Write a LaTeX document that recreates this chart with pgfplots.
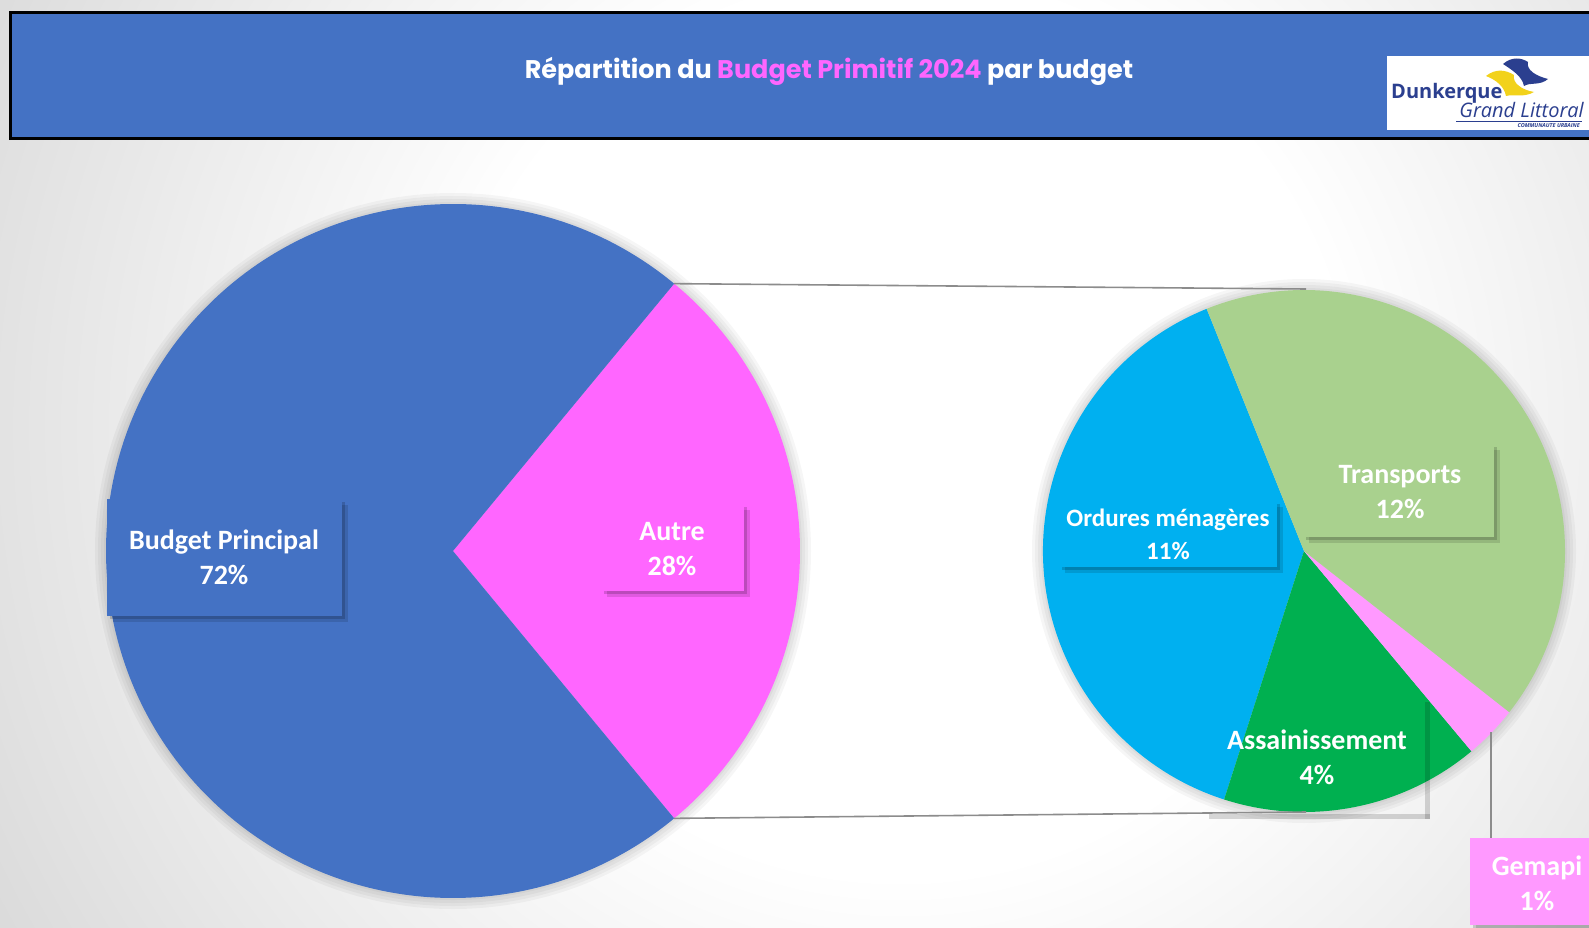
\documentclass[border=0pt]{standalone}
\usepackage{pgfplots}
\usepackage{pgfplotstable}
\pgfplotsset{compat=1.18}
\usepackage{fontspec}
\setmainfont{Carlito}
\newfontfamily\titlefont{Poppins}
\newfontfamily\logofont{Open Sans}

\definecolor{bannerblue}{HTML}{4472C4}
\definecolor{bpblue}{HTML}{4472C4}
\definecolor{autrepink}{HTML}{FF66FF}
\definecolor{titlepink}{HTML}{FF66FF}
\definecolor{ordblue}{HTML}{00B0F0}
\definecolor{assgreen}{HTML}{00B050}
\definecolor{gempink}{HTML}{FF99FF}
\definecolor{trgreen}{HTML}{A9D18E}
\definecolor{logonavy}{HTML}{2B3F8F}
\definecolor{logoyellow}{HTML}{F2D21B}

\pgfdeclareradialshading{bgshade}{\pgfpoint{0bp}{0bp}}{%
  color(0bp)=(white); color(8bp)=(white); color(24bp)=(black!22); color(50bp)=(black!32)}

% main pie: Autre first, centred on 0 degrees
\pgfplotstableread{
slice value color
Autre 28 autrepink
Principal 72 bpblue
}\mainpie

% sub pie (breakdown of Autre), counter-clockwise from 111.9 degrees
\pgfplotstableread{
slice value color
Ordures 10.91 ordblue
Assainissement 4.49 assgreen
Gemapi 0.93 gempink
Transports 11.67 trgreen
}\subpie

\newcommand{\pieslice}[6]{% cx cy r start end colour
  \edef\tmp{\noexpand\fill[#6] (axis cs:#1,#2) -- ++(#4:#3pt)
    arc[start angle=#4, end angle=#5, radius=#3pt] -- cycle;}\tmp}

\newcommand{\piering}[3]{% soft glow round a pie
  \pgfplotsinvokeforeach{2,5,8,11}{%
    \fill[black, opacity=0.035] (axis cs:#1,#2) circle[radius=#3pt+##1pt];
  }}

\newcommand{\labelbox}[5]{% x1 y1 x2 y2 colour
  \fill[black, opacity=0.12] ([xshift=6pt,yshift=-6pt]axis cs:#1,#2) rectangle ([xshift=6pt,yshift=-6pt]axis cs:#3,#4);
  \fill[black, opacity=0.16] ([xshift=3pt,yshift=-3pt]axis cs:#1,#2) rectangle ([xshift=3pt,yshift=-3pt]axis cs:#3,#4);
  \fill[#5] (axis cs:#1,#2) rectangle (axis cs:#3,#4);}

\begin{document}
\begin{tikzpicture}
\begin{axis}[at={(0pt,0pt)}, anchor=south west,
  width=1589pt, height=928pt, scale only axis,
  xmin=0, xmax=1589, ymin=0, ymax=928,
  hide axis, clip=false]

% background
\shade[shading=bgshade] (axis cs:900,500) circle[radius=1400pt];

% banner
\fill[bannerblue] (axis cs:11,789) rectangle (axis cs:1640,915);
\draw[black, line width=3pt] (axis cs:11,789) rectangle (axis cs:1640,915);
\node[text=white, font=\titlefont\bfseries\fontsize{25.5}{30}\selectfont]
  at (axis cs:829,857) {Répartition du \textcolor{titlepink}{Budget Primitif 2024} par budget};

% logo
\fill[white] (axis cs:1387,798) rectangle (axis cs:1620,872);
\fill[logonavy] (axis cs:1503,864) .. controls (axis cs:1512,872) and (axis cs:1522,870) .. (axis cs:1528,866)
  .. controls (axis cs:1526,858) and (axis cs:1536,852) .. (axis cs:1548,849)
  .. controls (axis cs:1540,842) and (axis cs:1530,846) .. (axis cs:1524,842)
  .. controls (axis cs:1522,852) and (axis cs:1512,858) .. (axis cs:1503,864) -- cycle;
\fill[logoyellow] (axis cs:1486,852) .. controls (axis cs:1496,860) and (axis cs:1506,858) .. (axis cs:1514,853)
  .. controls (axis cs:1512,845) and (axis cs:1522,838) .. (axis cs:1534,836)
  .. controls (axis cs:1524,830) and (axis cs:1512,834) .. (axis cs:1506,832)
  .. controls (axis cs:1504,842) and (axis cs:1496,848) .. (axis cs:1486,852) -- cycle;
\node[anchor=base west, text=logonavy, inner sep=0pt, font=\logofont\bfseries\fontsize{20}{21}\selectfont]
  at (axis cs:1391,829) {Dunkerque};
\node[anchor=base east, text=logonavy, inner sep=0pt, font=\logofont\itshape\fontsize{20}{21}\selectfont]
  at (axis cs:1584,810) {Grand Littoral};
\draw[logonavy, line width=0.6pt] (axis cs:1456,807) -- (axis cs:1582,807);
\node[anchor=base east, text=logonavy, inner sep=0pt, font=\logofont\bfseries\itshape\fontsize{5.5}{6}\selectfont]
  at (axis cs:1580,800) {COMMUNAUTE URBAINE};

% glow round the pies
\piering{453}{377}{347}
\piering{1304}{377}{261}

% main pie
\pgfplotstablegetrowsof{\mainpie}
\pgfmathtruncatemacro\nmain{\pgfplotsretval-1}
\pgfplotstablegetelem{0}{value}\of\mainpie
\pgfmathsetmacro\angacc{-\pgfplotsretval*1.8}
\let\mainstart\angacc
\pgfplotsforeachungrouped \i in {0,...,\nmain}{%
  \pgfplotstablegetelem{\i}{value}\of\mainpie \let\sv\pgfplotsretval
  \pgfplotstablegetelem{\i}{color}\of\mainpie \let\sc\pgfplotsretval
  \pgfmathsetmacro\angend{\angacc+\sv*3.6}%
  \pieslice{453}{377}{347}{\angacc}{\angend}{\sc}%
  \let\angacc\angend
}

% sub pie
\pgfplotstablegetrowsof{\subpie}
\pgfmathtruncatemacro\nsub{\pgfplotsretval-1}
\def\subtotal{0}
\pgfplotsforeachungrouped \i in {0,...,\nsub}{%
  \pgfplotstablegetelem{\i}{value}\of\subpie
  \pgfmathsetmacro\subtotal{\subtotal+\pgfplotsretval}%
}
\def\angacc{111.9}
\pgfplotsforeachungrouped \i in {0,...,\nsub}{%
  \pgfplotstablegetelem{\i}{value}\of\subpie \let\sv\pgfplotsretval
  \pgfplotstablegetelem{\i}{color}\of\subpie \let\sc\pgfplotsretval
  \pgfmathsetmacro\angend{\angacc+\sv*360/\subtotal}%
  \pieslice{1304}{377}{261}{\angacc}{\angend}{\sc}%
  \let\angacc\angend
}

% connector lines
\pgfmathsetmacro\mainend{-\mainstart}
\edef\tmp{\noexpand\draw[black!45, line width=1.6pt] (axis cs:453,377) ++(\mainend:347pt) -- (axis cs:1306,639);}\tmp
\edef\tmp{\noexpand\draw[black!45, line width=1.6pt] (axis cs:453,377) ++(\mainstart:347pt) -- (axis cs:1306,116);}\tmp
\draw[black!45, line width=1.4pt] (axis cs:1491,196) -- (axis cs:1491,90);

% data labels
\labelbox{107}{312}{342}{429}{bpblue}
\labelbox{601}{337}{744}{424}{autrepink}
\labelbox{1303}{391}{1494}{484}{trgreen}
\labelbox{1059}{361}{1277}{427}{ordblue}
\fill[black, opacity=0.15] ([xshift=3pt]axis cs:1206,109) rectangle (axis cs:1430,114);
\fill[black, opacity=0.15] (axis cs:1425,109) rectangle (axis cs:1430,226);
\labelbox{1470}{3}{1640}{90}{gempink}

\begin{scope}[every node/.style={align=center, text=white, font=\bfseries\fontsize{28}{35}\selectfont}]
\node at (axis cs:224,371) {Budget Principal\\72\%};
\node at (axis cs:672,379) {Autre\\28\%};
\node at (axis cs:1400,436) {Transports\\12\%};
\node[font=\bfseries\fontsize{25}{33}\selectfont] at (axis cs:1168,394) {Ordures ménagères\\11\%};
\node at (axis cs:1317,171) {Assainissement\\4\%};
\node at (axis cs:1537,45) {Gemapi\\1\%};
\end{scope}
\end{axis}
\pgfresetboundingbox
\path[use as bounding box] (0,0) rectangle (1589pt,928pt);
\end{tikzpicture}
\end{document}
